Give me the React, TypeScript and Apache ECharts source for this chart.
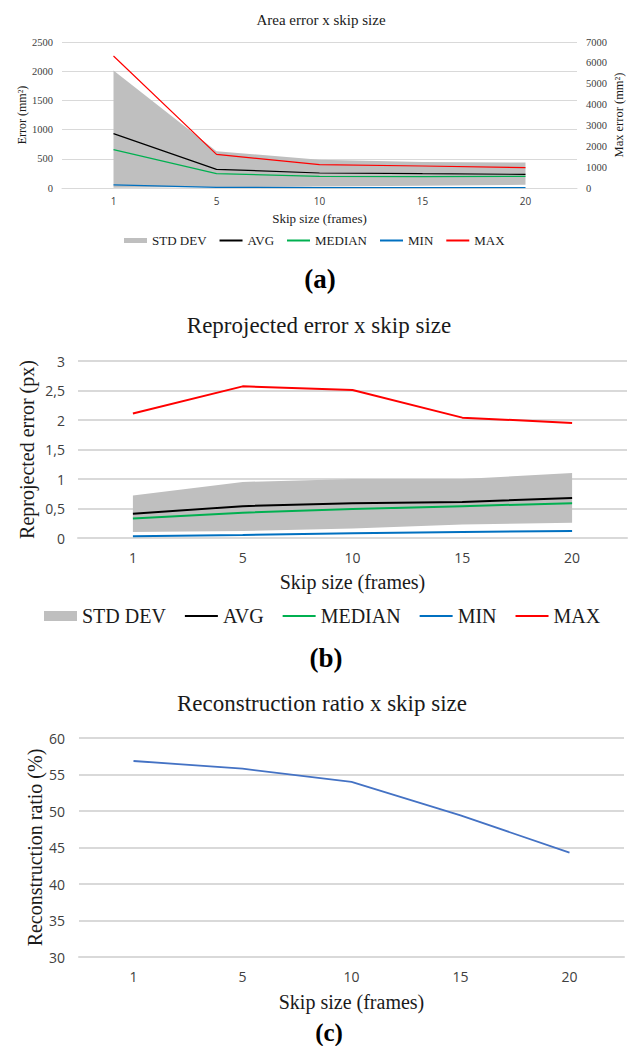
import React, { useEffect, useRef } from "react";
import * as echarts from "echarts";

// ---------- data ----------
const categories = ["1", "5", "10", "15", "20"];

// (a) Area error x skip size
const areaStdLower = [5, 15, 25, 40, 55];
const areaStdUpper = [2010, 630, 485, 445, 435];
const areaAvg = [930, 320, 257, 245, 234];
const areaMedian = [656, 245, 200, 194, 200];
const areaMin = [55, 12, 6, 6, 6];
const areaMax = [6330, 1615, 1120, 1055, 975];

// (b) Reprojected error x skip size
const reprojStdLower = [0.1, 0.12, 0.16, 0.23, 0.26];
const reprojStdUpper = [0.72, 0.95, 1.0, 1.0, 1.1];
const reprojAvg = [0.41, 0.54, 0.59, 0.61, 0.68];
const reprojMedian = [0.33, 0.43, 0.49, 0.54, 0.59];
const reprojMin = [0.03, 0.05, 0.08, 0.1, 0.12];
const reprojMax = [2.11, 2.57, 2.51, 2.04, 1.95];

// (c) Reconstruction ratio x skip size
const reconRatio = [56.85, 55.8, 54.0, 49.4, 44.3];

const legendNames = ["STD DEV", "AVG", "MEDIAN", "MIN", "MAX"];

const SERIF = "Liberation Serif";
const SANS = "Open Sans";
const GRID_COLOR = "#d9d9d9";
const TEXT = "#1a1a1a";
const TICK = "#404040";

const C_AVG = "#000000";
const C_MED = "#00b050";
const C_MIN = "#0070c0";
const C_MAX = "#ff0000";
const C_STD = "#bfbfbf";

const diff = (up: number[], lo: number[]) => up.map((v, i) => +(v - lo[i]).toFixed(4));
const plain = (v: number) => String(v);

function serif(fontSize: number, color = TEXT) {
  return { fontSize, fontFamily: SERIF, fontWeight: "normal", fontStyle: "normal", color };
}
function sans(fontSize: number, color = TICK) {
  return { fontSize, fontFamily: SANS, fontWeight: "normal", fontStyle: "normal", color };
}

function lineSeries(name: string, data: number[], color: string, width: number, xi: number, yi: number) {
  return {
    name,
    type: "line",
    xAxisIndex: xi,
    yAxisIndex: yi,
    data,
    symbol: "none",
    showSymbol: false,
    color,
    lineStyle: { color, width },
    z: 3,
  };
}

function bandSeries(stack: string, lower: number[], upper: number[], xi: number, yi: number) {
  return [
    {
      name: "band-low-" + stack,
      type: "line",
      xAxisIndex: xi,
      yAxisIndex: yi,
      stack,
      data: lower,
      symbol: "none",
      showSymbol: false,
      lineStyle: { opacity: 0, width: 0 },
      silent: true,
      z: 1,
    },
    {
      name: "STD DEV",
      type: "line",
      xAxisIndex: xi,
      yAxisIndex: yi,
      stack,
      data: diff(upper, lower),
      symbol: "none",
      showSymbol: false,
      color: C_STD,
      itemStyle: { color: C_STD },
      lineStyle: { opacity: 0, width: 0 },
      areaStyle: { color: C_STD, opacity: 1 },
      silent: true,
      z: 1,
    },
  ];
}

function legendData() {
  return legendNames.map((n) =>
    n === "STD DEV"
      ? { name: n, icon: "rect", itemStyle: { color: C_STD, borderWidth: 0, opacity: 1 } }
      : { name: n, itemStyle: { opacity: 0, borderWidth: 0 } }
  );
}

function xAxis(gridIndex: number, fontSize: number, margin: number, nameSize: number, nameGap: number, lineWidth: number) {
  return {
    type: "category",
    gridIndex,
    data: categories,
    boundaryGap: true,
    axisTick: { show: false },
    axisLine: { show: true, lineStyle: { color: GRID_COLOR, width: lineWidth } },
    axisLabel: { ...sans(fontSize), margin },
    name: "Skip size (frames)",
    nameLocation: "middle",
    nameGap,
    nameTextStyle: serif(nameSize),
  };
}

export default function App() {
  const ref = useRef<HTMLDivElement>(null);

  useEffect(() => {
    if (!ref.current) return;
    const chart = echarts.init(ref.current, undefined, { renderer: "svg" });

    const option = {
      animation: false,
      backgroundColor: "#ffffff",
      textStyle: { fontFamily: SERIF, fontWeight: "normal", color: TEXT },
      title: [
        { text: "Area error x skip size", left: 321, top: 12, textAlign: "center", padding: 0,
          textStyle: serif(15) },
        { text: "(a)", left: 320, top: 265, textAlign: "center", padding: 0,
          textStyle: { fontSize: 27, fontWeight: "bold", fontFamily: SERIF, color: "#000" } },
        { text: "Reprojected error x skip size", left: 319, top: 314, textAlign: "center", padding: 0,
          textStyle: serif(23) },
        { text: "(b)", left: 326, top: 644, textAlign: "center", padding: 0,
          textStyle: { fontSize: 27, fontWeight: "bold", fontFamily: SERIF, color: "#000" } },
        { text: "Reconstruction ratio x skip size", left: 322, top: 692, textAlign: "center", padding: 0,
          textStyle: serif(23) },
        { text: "(c)", left: 329, top: 1020, textAlign: "center", padding: 0,
          textStyle: { fontSize: 25, fontWeight: "bold", fontFamily: SERIF, color: "#000" } },
      ],
      legend: [
        {
          data: legendData(),
          left: 124,
          top: 234,
          padding: 0,
          itemWidth: 23,
          itemHeight: 5,
          itemGap: 12,
          selectedMode: false,
          textStyle: serif(13),
        },
        {
          data: legendData(),
          left: 44,
          top: 606,
          padding: 0,
          itemWidth: 33,
          itemHeight: 10,
          itemGap: 18,
          selectedMode: false,
          textStyle: serif(20),
        },
      ],
      grid: [
        { left: 62, top: 42, width: 517, height: 146 },
        { left: 78, top: 361, width: 549, height: 177 },
        { left: 79, top: 738, width: 545, height: 219 },
      ],
      xAxis: [
        xAxis(0, 10, 8, 13, 24, 1),
        xAxis(1, 14, 12, 20, 34, 2),
        xAxis(2, 14, 12, 20, 35, 2),
      ],
      yAxis: [
        {
          type: "value", gridIndex: 0, position: "left", min: 0, max: 2500, interval: 500,
          axisLine: { show: false }, axisTick: { show: false },
          splitLine: { lineStyle: { color: GRID_COLOR, width: 1 } },
          axisLabel: { ...serif(10.5, TICK), margin: 9, formatter: plain },
          name: "Error (mm²)", nameLocation: "middle", nameRotate: 90, nameGap: 34,
          nameMoveOverlap: false,
          nameTextStyle: serif(12),
        },
        {
          type: "value", gridIndex: 0, position: "right", min: 0, max: 7000, interval: 1000,
          axisLine: { show: false }, axisTick: { show: false }, splitLine: { show: false },
          axisLabel: { ...serif(10.5, TICK), margin: 9, formatter: plain },
          name: "Max error (mm²)", nameLocation: "middle", nameRotate: 90, nameGap: 35,
          nameMoveOverlap: false,
          nameTextStyle: serif(12.5),
        },
        {
          type: "value", gridIndex: 1, min: 0, max: 3, interval: 0.5,
          axisLine: { show: false }, axisTick: { show: false },
          splitLine: { lineStyle: { color: GRID_COLOR, width: 2 } },
          axisLabel: {
            ...sans(14), margin: 13,
            formatter: (v: number) => String(v).replace(".", ","),
          },
          name: "Reprojected error (px)", nameLocation: "middle", nameRotate: 90, nameGap: 41,
          nameMoveOverlap: false,
          nameTextStyle: serif(20),
        },
        {
          type: "value", gridIndex: 2, min: 30, max: 60, interval: 5,
          axisLine: { show: false }, axisTick: { show: false },
          splitLine: { lineStyle: { color: GRID_COLOR, width: 2 } },
          axisLabel: { ...sans(14), margin: 14, formatter: plain },
          name: "Reconstruction ratio (%)", nameLocation: "middle", nameRotate: 90, nameGap: 34,
          nameMoveOverlap: false,
          nameTextStyle: serif(20),
        },
      ],
      series: [
        ...bandSeries("bandA", areaStdLower, areaStdUpper, 0, 0),
        lineSeries("AVG", areaAvg, C_AVG, 1.2, 0, 0),
        lineSeries("MEDIAN", areaMedian, C_MED, 1.2, 0, 0),
        lineSeries("MIN", areaMin, C_MIN, 1.2, 0, 0),
        lineSeries("MAX", areaMax, C_MAX, 1.2, 0, 1),
        ...bandSeries("bandB", reprojStdLower, reprojStdUpper, 1, 2),
        lineSeries("AVG", reprojAvg, C_AVG, 2, 1, 2),
        lineSeries("MEDIAN", reprojMedian, C_MED, 2, 1, 2),
        lineSeries("MIN", reprojMin, C_MIN, 2, 1, 2),
        lineSeries("MAX", reprojMax, C_MAX, 2, 1, 2),
        {
          name: "Reconstruction ratio",
          type: "line",
          xAxisIndex: 2,
          yAxisIndex: 3,
          data: reconRatio,
          symbol: "none",
          showSymbol: false,
          color: "#4472c4",
          lineStyle: { color: "#4472c4", width: 1.8 },
        },
      ],
    };

    chart.setOption(option as any);
    return () => chart.dispose();
  }, []);

  return (
    <div
      ref={ref}
      style={{ position: "absolute", left: 0, top: 0, width: 633, height: 1046, background: "#fff" }}
    />
  );
}
